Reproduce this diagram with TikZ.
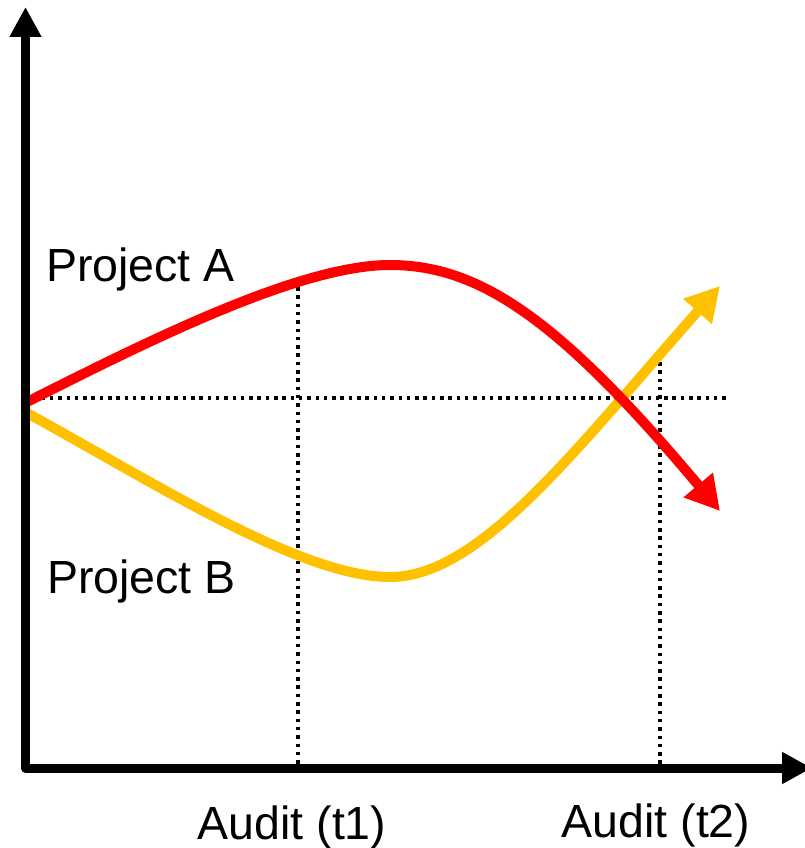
\documentclass[tikz,border=0pt]{standalone}
\usepackage{fontspec}
\setmainfont{Liberation Sans}
\usetikzlibrary{arrows.meta}
\definecolor{curveA}{HTML}{FF0000}
\definecolor{curveB}{HTML}{FFC000}
\tikzset{
  axis/.style={line width=9pt, line join=round},
  curve/.style={line width=10pt, -{Triangle[length=34pt,width=36pt]}},
  guide/.style={line width=3.5pt, dash pattern=on 3.5pt off 4.8pt},
  lbl/.style={inner sep=0pt, font=\fontsize{46.5}{56}\selectfont}
}
\begin{document}
\begin{tikzpicture}[x=1pt,y=-1pt]
\useasboundingbox (0,0) rectangle (804,848);
% coordinates
\coordinate (O) at (25.5,768);
\coordinate (Ytop) at (25.5,7);
\coordinate (Xend) at (812,768);
\coordinate (Astart) at (25,403);
\coordinate (Apeak) at (390,265);
\coordinate (Aend) at (720,511);
\coordinate (Bstart) at (25,412);
\coordinate (Bmin) at (390,577);
\coordinate (Bend) at (720,286);
\coordinate (Hs) at (25,398);
\coordinate (He) at (728,398);
\coordinate (T1top) at (298,287);
\coordinate (T1bot) at (298,768);
\coordinate (T2top) at (660,362);
\coordinate (T2bot) at (660,768);
% guides
\draw[guide] (Hs) -- (He);
\draw[guide] (T1top) -- (T1bot);
\draw[guide] (T2top) -- (T2bot);
% curves
\draw[curve, curveB] (Bstart) .. controls (150,480) and (300,577) .. (Bmin)
  .. controls (480,577) and (575,450) .. (Bend);
\draw[curve, curveA] (Astart) .. controls (150,340) and (300,265) .. (Apeak)
  .. controls (480,265) and (560,320) .. (Aend);
% axes
\draw[axis, {Triangle[length=30pt,width=30pt]}-{Triangle[length=30pt,width=30pt]}] (Ytop) -- (O) -- (Xend);
% labels
\node[lbl, anchor=base west] (la) at (46,281) {Project A};
\node[lbl, anchor=base west] (lb) at (47,593) {Project B};
\node[lbl, anchor=base] (t1) at (292,839) {Audit (t1)};
\node[lbl, anchor=base] (t2) at (656,837) {Audit (t2)};
\end{tikzpicture}
\end{document}
